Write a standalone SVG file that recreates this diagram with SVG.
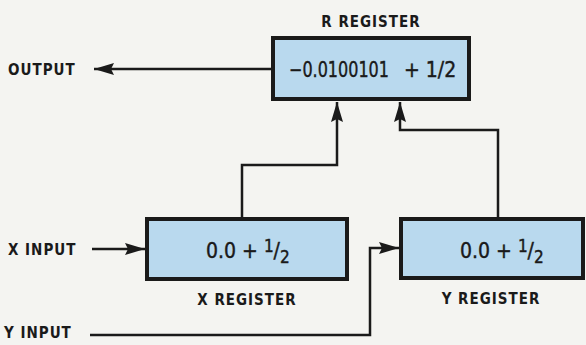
<svg xmlns="http://www.w3.org/2000/svg" width="586" height="345" viewBox="0 0 586 345">
<defs>
<marker id="ah" viewBox="0 0 20 12" refX="20" refY="6" markerWidth="20" markerHeight="12" markerUnits="userSpaceOnUse" orient="auto">
<path d="M0,0 L20,6 L0,12 L3,6 Z" fill="#1a1a1a"/>
</marker>
<style>
.box{fill:#b9d9ee;stroke:#1a1a1a;stroke-width:4}
.ln{fill:none;stroke:#1a1a1a;stroke-width:2.5}
.lbl{font-family:"DejaVu Sans Condensed","DejaVu Sans",sans-serif;font-weight:bold;font-size:15px;fill:#1a1a1a;letter-spacing:1px}
.val{font-family:"DejaVu Sans Condensed","DejaVu Sans",sans-serif;font-size:21px;fill:#1a1a1a;stroke:#1a1a1a;stroke-width:0.4}
</style>
</defs>
<rect width="586" height="345" fill="#f4f4f1"/>
<g id="connectors">
<line class="ln" x1="272" y1="69" x2="94" y2="69" marker-end="url(#ah)"/>
<polyline class="ln" points="242,218 242,165 337,165 337,102" marker-end="url(#ah)"/>
<polyline class="ln" points="498,218 498,130 400,130 400,102" marker-end="url(#ah)"/>
<line class="ln" x1="92" y1="249" x2="145" y2="249" marker-end="url(#ah)"/>
<polyline class="ln" points="90,335 370,335 370,248 399,248" marker-end="url(#ah)"/>
</g>
<g id="r-register">
<rect class="box" x="273" y="38" width="196" height="61"/>
<text class="lbl" x="371" y="27" text-anchor="middle">R REGISTER</text>
<text class="val" x="289" y="77" textLength="100" lengthAdjust="spacingAndGlyphs">−0.0100101</text>
<text class="val" x="404" y="77">+ 1/2</text>
</g>
<g id="x-register">
<rect class="box" x="147" y="219" width="200" height="60"/>
<text class="val" x="206" y="258">0.0 + <tspan font-size="17" dy="-6">1</tspan><tspan dy="6">/</tspan><tspan font-size="17" dy="5">2</tspan></text>
<text class="lbl" x="247" y="305" text-anchor="middle">X REGISTER</text>
</g>
<g id="y-register">
<rect class="box" x="401" y="219" width="182" height="59"/>
<text class="val" x="460" y="258">0.0 + <tspan font-size="17" dy="-6">1</tspan><tspan dy="6">/</tspan><tspan font-size="17" dy="5">2</tspan></text>
<text class="lbl" x="491" y="304" text-anchor="middle">Y  REGISTER</text>
</g>
<g id="output">
<text class="lbl" x="8" y="75">OUTPUT</text>
</g>
<g id="x-input">
<text class="lbl" x="8" y="255">X INPUT</text>
</g>
<g id="y-input">
<text class="lbl" x="4" y="338">Y INPUT</text>
</g>
</svg>
